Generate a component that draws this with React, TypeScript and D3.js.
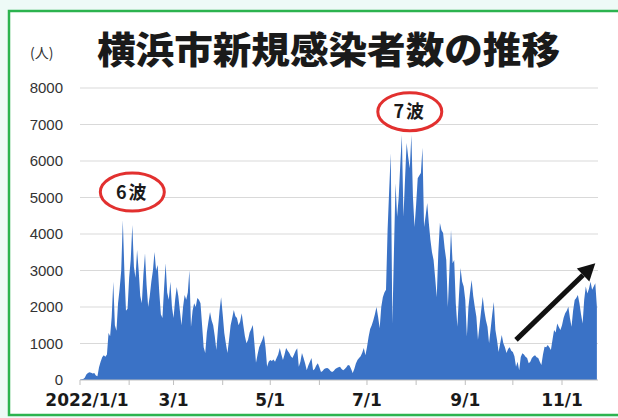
import * as d3 from 'd3';

// 横浜市 daily new cases, 2022/1/1 onward
const dailyCases = [
  10, 20, 30, 60, 150, 190, 210, 200, 180, 190,
  120, 100, 350, 500, 620, 680, 640, 700, 1290, 1200,
  1730, 2690, 1500, 1350, 2100, 2500, 3000, 4380, 2960, 1900,
  1950, 2800, 3300, 4250, 3100, 2800, 3560, 3000, 2300, 2100,
  2900, 3470, 2600, 2000, 2300, 2700, 3000, 3510, 3000, 3150,
  2400, 1800, 1700, 2500, 3200, 2400, 2200, 2690, 2000, 1700,
  2200, 2550, 2300, 1900, 1500, 2000, 2330, 2200, 2400, 3010,
  1450, 1900, 2100, 2000, 2250, 2200, 2100, 1500, 900, 740,
  1300, 1600, 1860, 1640, 1500, 1200, 820, 1400, 1900, 2270,
  1800, 1290, 1000, 740, 1100, 1500, 1700, 1920, 1750, 1700,
  1500, 1600, 1830, 1500, 1200, 1010, 1100, 1300, 1400, 1510,
  1000, 470, 700, 900, 1000, 1100, 1230, 900, 360, 500,
  550, 520, 560, 500, 600, 700, 880, 700, 550, 700,
  880, 800, 740, 650, 600, 700, 800, 870, 360, 500,
  740, 600, 450, 270, 400, 500, 600, 270, 300, 400,
  460, 350, 220, 250, 300, 320, 330, 300, 250, 220,
  250, 300, 330, 350, 360, 300, 270, 300, 350, 410,
  400, 300, 190, 300, 450, 550, 600, 650, 750, 880,
  680, 900, 1180, 1400, 1500, 1640, 1800, 2000, 1730, 1420,
  2000, 2270, 2400, 2470, 4110, 5200, 6210, 1550, 3500, 5390,
  4470, 5000, 5900, 6710, 4470, 5500, 6490, 6110, 5800, 6710,
  5000, 4190, 4800, 5530, 5600, 5670, 6360, 4190, 4500, 4850,
  4300, 3840, 3500, 3290, 2800, 2270, 3500, 4300, 4100, 4030,
  3600, 3290, 2000, 3000, 4110, 3200, 3290, 2100, 1460, 2300,
  3070, 2700, 2560, 2190, 1190, 2000, 2400, 2740, 2300, 2000,
  1730, 1100, 1500, 1900, 2280, 1900, 1640, 1460, 1010, 1400,
  1800, 2140, 1370, 1100, 770, 1000, 1230, 1010, 900, 740,
  850, 900, 800, 770, 650, 360, 500, 270, 630, 730,
  700, 640, 600, 460, 500, 600, 650, 680, 620, 600,
  500, 410, 700, 910, 900, 960, 900, 820, 1100, 1370,
  1300, 1550, 1450, 1370, 1500, 1700, 1830, 1900, 2010, 1700,
  1460, 1900, 2190, 2250, 2330, 2100, 1800, 1550, 2200, 2560,
  2370, 2500, 2690, 2470, 2560, 2650, 2010,
];

const startDate = new Date(2022, 0, 1);
const yTicks = [0, 1000, 2000, 3000, 4000, 5000, 6000, 7000, 8000];
const monthTicks = d3.range(0, 11).map((m) => new Date(2022, m, 1));
const monthLabels = ['2022/1/1', '', '3/1', '', '5/1', '', '7/1', '', '9/1', '', '11/1'];

const waves = [
  { label: '6波', date: new Date(2022, 1, 3), value: 5150 },
  { label: '7波', date: new Date(2022, 6, 28), value: 7350 },
];
const trendFrom = { date: new Date(2022, 9, 3), value: 1100 };
const trendTo = { date: new Date(2022, 10, 22), value: 3200 };

const W = 618;
const H = 418;
const plotLeft = 80;
const plotRight = 598;

export default function App() {
  const x = d3.scaleTime()
    .domain([new Date(2022, 0, 1), new Date(2022, 10, 1)])
    .range([80, 562]);
  const y = d3.scaleLinear().domain([0, 8000]).range([380, 88]);

  const points = dailyCases.map((v, i) => ({ date: d3.timeDay.offset(startDate, i), v }));
  const area = d3.area<{ date: Date; v: number }>()
    .x((d) => x(d.date))
    .y0(y(0))
    .y1((d) => y(d.v));

  const ax1 = x(trendFrom.date), ay1 = y(trendFrom.value);
  const ax2 = x(trendTo.date), ay2 = y(trendTo.value);
  const ang = Math.atan2(ay2 - ay1, ax2 - ax1);
  const headLen = 17, headW = 9;
  const bx = ax2 - headLen * Math.cos(ang), by = ay2 - headLen * Math.sin(ang);
  const head = [
    [ax2, ay2],
    [bx + headW * Math.sin(ang), by - headW * Math.cos(ang)],
    [bx - headW * Math.sin(ang), by + headW * Math.cos(ang)],
  ].map((p) => p.join(',')).join(' ');

  return (
    <svg width={W} height={H} style={{ position: 'absolute', left: 0, top: 0 }}>
      <rect x={0} y={0} width={W} height={H} fill="#eefaf7" />
      <rect x={9} y={11} width={W + 20} height={404} fill="#ffffff" stroke="#2cb34f" strokeWidth={2.5} />

      <text x={97} y={64} fontFamily="'Noto Sans CJK JP', sans-serif" fontWeight={900}
        fontSize={37} fill="#1a1a1a" textLength={463} lengthAdjust="spacingAndGlyphs">
        横浜市新規感染者数の推移
      </text>
      <text x={30} y={58} fontFamily="'Noto Sans CJK JP', sans-serif" fontSize={14} fill="#333">(人)</text>

      {yTicks.map((t) => (
        <g key={t}>
          {t > 0 && <line x1={plotLeft} x2={plotRight} y1={y(t)} y2={y(t)} stroke="#d9d9d9" strokeWidth={1} />}
          <text x={63} y={y(t)} dy="0.36em" textAnchor="end" fontFamily="'Liberation Sans', Arial, sans-serif"
            fontSize={15} fill="#333">{t}</text>
        </g>
      ))}

      <path d={area(points) ?? ''} fill="#3a72c6" />

      <line x1={plotLeft} x2={plotRight} y1={y(0)} y2={y(0)} stroke="#bfbfbf" strokeWidth={1} />
      {monthTicks.map((d, i) => (
        <g key={i}>
          <line x1={x(d)} x2={x(d)} y1={y(0)} y2={y(0) + 5} stroke="#bfbfbf" strokeWidth={1} />
          {monthLabels[i] && (
            <text x={x(d) + (i === 0 ? 7 : 0)} y={406} textAnchor="middle" fontFamily="'DejaVu Sans', sans-serif"
              fontWeight="bold" fontSize={17} fill="#1a1a1a">{monthLabels[i]}</text>
          )}
        </g>
      ))}

      {waves.map((w) => (
        <g key={w.label}>
          <ellipse cx={x(w.date)} cy={y(w.value)} rx={32} ry={19} fill="#ffffff" stroke="#e2302f" strokeWidth={3} />
          <text x={x(w.date)} y={y(w.value)} dy="0.36em" textAnchor="middle"
            fontFamily="'Noto Sans CJK JP', sans-serif" fontWeight="bold" fontSize={18} letterSpacing={2} fill="#1a1a1a">
            {w.label}
          </text>
        </g>
      ))}

      <line x1={ax1} y1={ay1} x2={bx} y2={by} stroke="#111" strokeWidth={5} />
      <polygon points={head} fill="#111" />
    </svg>
  );
}
